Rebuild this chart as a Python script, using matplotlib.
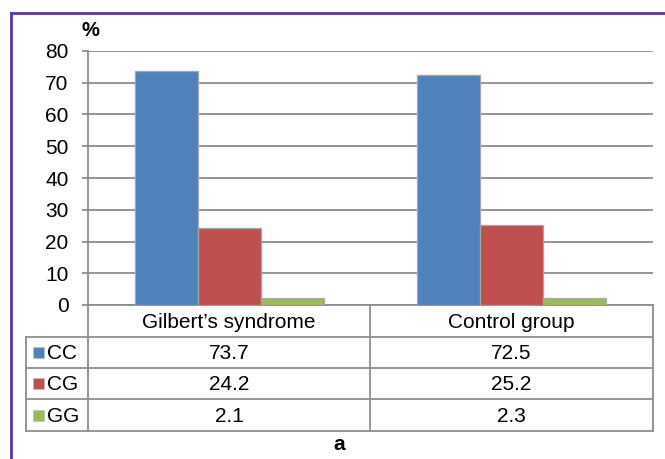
import matplotlib
matplotlib.use("Agg")
import matplotlib.pyplot as plt
from matplotlib.patches import Rectangle
from matplotlib.lines import Line2D
import numpy as np

plt.rcParams['font.family'] = ['Liberation Sans', 'DejaVu Sans']

groups = ["Gilbert\u2019s syndrome", "Control group"]
genotypes = ["CC", "CG", "GG"]
values = {
    "CC": [73.7, 72.5],
    "CG": [24.2, 25.2],
    "GG": [2.1, 2.3],
}
colors = {"CC": "#4F81BD", "CG": "#C0504D", "GG": "#9BBB59"}
yticks = [0, 10, 20, 30, 40, 50, 60, 70, 80]

W, H = 665, 459
fig = plt.figure(figsize=(W / 100, H / 100), dpi=100)

def fx(px):
    return px / W

def fy(py):
    return 1 - py / H

# plot area in pixel bounds
ax_l, ax_r, ax_t, ax_b = 88, 653, 51, 305
ax = fig.add_axes([fx(ax_l), fy(ax_b), fx(ax_r - ax_l), fy(ax_t) - fy(ax_b)])

grid_c = "#8C8C8C"
x = np.arange(len(groups))
bw = 0.223
for i, g in enumerate(genotypes):
    ax.bar(x + (i - 1) * bw, values[g], width=bw, color=colors[g],
           edgecolor="#A6A6A6", linewidth=0.9, zorder=3)

ax.set_xlim(-0.5, len(groups) - 0.5)
ax.set_ylim(0, 80)
ax.set_yticks(yticks)
ax.set_yticklabels([str(t) for t in yticks], fontsize=15)
ax.yaxis.grid(True, color=grid_c, linewidth=1.3, zorder=0)
ax.set_axisbelow(True)
ax.set_xticks([])
for s in ["top", "right"]:
    ax.spines[s].set_visible(False)
for s in ["left", "bottom"]:
    ax.spines[s].set_color(grid_c)
    ax.spines[s].set_linewidth(1.3)
ax.tick_params(axis="y", length=4.5, width=1.3, color=grid_c, pad=9.5)

# data table below the axis
lc = grid_c
lw = 1.3
tab_l = 26
mid = 370
rows_y = [305, 337, 368, 399, 431]

def hline(x0, x1, y):
    fig.add_artist(Line2D([fx(x0), fx(x1)], [fy(y), fy(y)], color=lc, linewidth=lw))

def vline(xp, y0, y1):
    fig.add_artist(Line2D([fx(xp), fx(xp)], [fy(y0), fy(y1)], color=lc, linewidth=lw))

for y in rows_y[1:]:
    hline(tab_l, ax_r, y)
vline(tab_l, rows_y[1], rows_y[-1])
vline(ax_l, rows_y[0], rows_y[-1])
vline(mid, rows_y[0], rows_y[-1])
vline(ax_r, rows_y[0], rows_y[-1])

col_centers = [(ax_l + mid) / 2, (mid + ax_r) / 2]
fs = 15
for j, g in enumerate(groups):
    fig.text(fx(col_centers[j]), fy((rows_y[0] + rows_y[1]) / 2 + 1), g,
             ha="center", va="center", fontsize=fs)
for i, g in enumerate(genotypes):
    yc = (rows_y[i + 1] + rows_y[i + 2]) / 2
    fig.add_artist(Rectangle((fx(33), fy(yc + 5.5)), fx(11), fy(yc - 5.5) - fy(yc + 5.5),
                             facecolor=colors[g], edgecolor="#BFBFBF", linewidth=0.6))
    fig.text(fx(47), fy(yc + 1), g, ha="left", va="center", fontsize=fs)
    for j in range(len(groups)):
        fig.text(fx(col_centers[j]), fy(yc + 1), f"{values[g][j]:.1f}",
                 ha="center", va="center", fontsize=fs)

# axis unit and panel letter
fig.text(fx(81), fy(31), "%", ha="left", va="center", fontsize=14.5, fontweight="bold")
fig.text(fx(339), fy(445), "a", ha="center", va="center", fontsize=15, fontweight="bold")

# purple frame
frame_c = "#5B3596"
fig.add_artist(Line2D([fx(10.5), fx(10.5)], [fy(13), 0], color=frame_c, linewidth=2))
fig.add_artist(Line2D([fx(10.5), 1], [fy(13), fy(13)], color=frame_c, linewidth=2))

fig.savefig("out.png", dpi=100)
